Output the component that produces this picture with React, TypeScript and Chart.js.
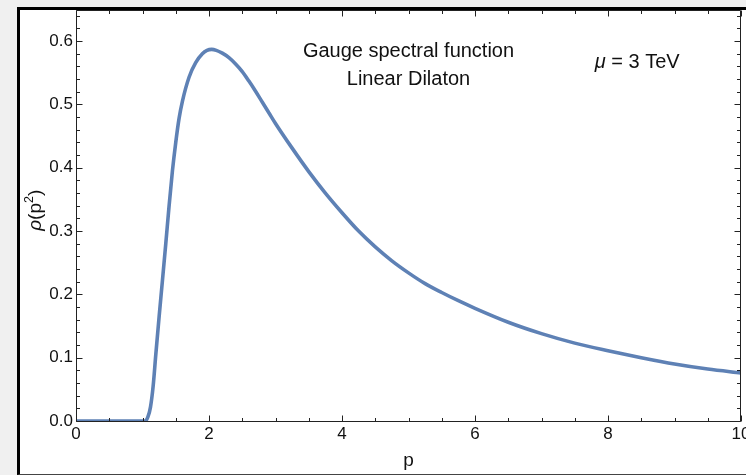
import React, { useEffect, useRef } from 'react';
import { Chart, registerables } from 'chart.js';

Chart.register(...registerables);

// ---- data ----
const pValues = [0, 0.5, 1.0, 1.04, 1.08, 1.12, 1.16, 1.2, 1.25, 1.3, 1.35, 1.4, 1.45, 1.5, 1.55, 1.6, 1.7, 1.8, 1.9, 1.97, 2.04, 2.11, 2.2, 2.3, 2.4, 2.5, 2.6, 2.7, 2.8, 2.9, 3.0, 3.25, 3.5, 3.75, 4.0, 4.25, 4.5, 4.75, 5.0, 5.25, 5.5, 5.75, 6.0, 6.5, 7.0, 7.5, 8.0, 8.5, 9.0, 9.5, 10];
const rhoValues = [0, 0, 0, 0, 0.006, 0.022, 0.055, 0.105, 0.165, 0.222, 0.28, 0.34, 0.395, 0.44, 0.478, 0.505, 0.543, 0.566, 0.58, 0.5855, 0.587, 0.5855, 0.581, 0.574, 0.564, 0.552, 0.537, 0.521, 0.504, 0.487, 0.47, 0.431, 0.394, 0.36, 0.329, 0.3, 0.275, 0.253, 0.234, 0.217, 0.203, 0.19, 0.178, 0.156, 0.138, 0.123, 0.111, 0.1, 0.09, 0.082, 0.076];

const xMajorTicks = [0, 2, 4, 6, 8, 10];
const xMinorStep = 0.5;
const yMajorTicks = [0, 0.1, 0.2, 0.3, 0.4, 0.5, 0.6];
const yMinorStep = 0.02;
const xRange = [0, 10];
const yRange = [0, 0.65];

const titleLines = ['Gauge spectral function', 'Linear Dilaton'];
const muLabel = ['μ', ' = 3 TeV'];
const xTitle = 'p';

const FONT = '"Liberation Sans", Arial, Helvetica, sans-serif';
const LINE_COLOR = '#5e81b5';

const isMajor = (v: number, majors: number[]) => majors.some((m) => Math.abs(m - v) < 1e-6);

const buildTicks = (max: number, step: number) => {
  const t: { value: number }[] = [];
  for (let i = 0; i * step <= max + 1e-9; i++) t.push({ value: +(i * step).toFixed(4) });
  return t;
};

const framePlugin = {
  id: 'mmaFrame',
  afterDatasetsDraw(chart: any) {
    const { ctx, chartArea, scales } = chart;
    const { left, right, top, bottom } = chartArea;
    const xs = scales.x;
    const ys = scales.y;
    ctx.save();
    ctx.strokeStyle = '#222';
    ctx.lineWidth = 1;
    const L = Math.round(left) + 0.5;
    const R = Math.round(right) - 0.5;
    const T = Math.round(top) + 0.5;
    const B = Math.round(bottom) + 0.5;
    ctx.beginPath();
    ctx.moveTo(L, T);
    ctx.lineTo(R, T);
    ctx.lineTo(R, B);
    ctx.lineTo(L, B);
    ctx.closePath();
    ctx.stroke();
    ctx.beginPath();
    xs.ticks.forEach((t: any) => {
      const px = Math.round(xs.getPixelForValue(t.value)) + 0.5;
      const len = isMajor(t.value, xMajorTicks) ? 6 : 3.5;
      ctx.moveTo(px, B);
      ctx.lineTo(px, B - len);
      ctx.moveTo(px, T);
      ctx.lineTo(px, T + len);
    });
    ys.ticks.forEach((t: any) => {
      const py = Math.round(ys.getPixelForValue(t.value)) + 0.5;
      const len = isMajor(t.value, yMajorTicks) ? 6 : 3.5;
      ctx.moveTo(L, py);
      ctx.lineTo(L + len, py);
      ctx.moveTo(R, py);
      ctx.lineTo(R - len, py);
    });
    ctx.stroke();
    ctx.restore();
  },
  afterDraw(chart: any) {
    const { ctx, chartArea, scales } = chart;
    const xs = scales.x;
    const ys = scales.y;
    ctx.save();
    ctx.fillStyle = '#111';
    // annotations
    ctx.font = `20px ${FONT}`;
    ctx.textAlign = 'center';
    ctx.textBaseline = 'alphabetic';
    const cx = xs.getPixelForValue(5.0);
    ctx.fillText(titleLines[0], cx, ys.getPixelForValue(0.5757));
    ctx.fillText(titleLines[1], cx, ys.getPixelForValue(0.5305));
    // mu label
    ctx.textAlign = 'left';
    let mx = xs.getPixelForValue(7.8);
    const my = ys.getPixelForValue(0.5574);
    ctx.font = `italic 20px ${FONT}`;
    ctx.fillText(muLabel[0], mx, my);
    mx += ctx.measureText(muLabel[0]).width;
    ctx.font = `20px ${FONT}`;
    ctx.fillText(muLabel[1], mx, my);
    // y title rho(p^2)
    const segs = [
      { t: 'ρ', f: `italic 19px ${FONT}`, dy: 0 },
      { t: '(p', f: `19px ${FONT}`, dy: 0 },
      { t: '2', f: `12.5px ${FONT}`, dy: -8 },
      { t: ')', f: `19px ${FONT}`, dy: 0 },
    ];
    let total = 0;
    segs.forEach((s) => {
      ctx.font = s.f;
      total += ctx.measureText(s.t).width;
    });
    const cy = (chartArea.top + chartArea.bottom) / 2 - 5;
    ctx.translate(41, cy);
    ctx.rotate(-Math.PI / 2);
    let sx = -total / 2;
    segs.forEach((s) => {
      ctx.font = s.f;
      ctx.fillText(s.t, sx, s.dy);
      sx += ctx.measureText(s.t).width;
    });
    ctx.restore();
  },
};

export default function App() {
  const ref = useRef<HTMLCanvasElement | null>(null);
  useEffect(() => {
    if (!ref.current) return;
    const chart = new Chart(ref.current, {
      type: 'line',
      data: {
        datasets: [
          {
            data: pValues.map((p, i) => ({ x: p, y: rhoValues[i] })),
            borderColor: LINE_COLOR,
            borderWidth: 3.6,
            pointRadius: 0,
            fill: false,
            cubicInterpolationMode: 'monotone',
            clip: 0,
          } as any,
        ],
      },
      options: {
        responsive: false,
        animation: false,
        events: [],
        layout: { padding: { left: 20, top: 9.5, right: 5, bottom: 0 } },
        plugins: { legend: { display: false }, tooltip: { enabled: false }, title: { display: false } },
        scales: {
          x: {
            type: 'linear',
            min: xRange[0],
            max: xRange[1],
            grid: { display: false, drawTicks: false },
            border: { display: false },
            afterBuildTicks: (scale: any) => {
              scale.ticks = buildTicks(xRange[1], xMinorStep);
            },
            afterFit: (scale: any) => {
              scale.height = 54;
              scale.paddingLeft = 0;
              scale.paddingRight = 0;
              scale.paddingTop = 0;
              scale.paddingBottom = 0;
            },
            ticks: {
              autoSkip: false,
              maxRotation: 0,
              minRotation: 0,
              padding: 3,
              color: '#111',
              font: { family: FONT, size: 17 },
              callback: (v: any) => (isMajor(Number(v), xMajorTicks) ? String(Math.round(Number(v))) : ''),
            },
            title: {
              display: true,
              text: xTitle,
              color: '#111',
              font: { family: FONT, size: 19 },
              padding: { top: 0, bottom: 3 },
            },
          },
          y: {
            type: 'linear',
            min: yRange[0],
            max: yRange[1],
            grid: { display: false, drawTicks: false },
            border: { display: false },
            afterBuildTicks: (scale: any) => {
              scale.ticks = buildTicks(yRange[1], yMinorStep);
            },
            afterFit: (scale: any) => {
              scale.width = 56;
              scale.paddingLeft = 0;
              scale.paddingRight = 0;
              scale.paddingTop = 0;
              scale.paddingBottom = 0;
            },
            ticks: {
              autoSkip: false,
              padding: 3,
              color: '#111',
              font: { family: FONT, size: 17 },
              callback: (v: any) => (isMajor(Number(v), yMajorTicks) ? Number(v).toFixed(1) : ''),
            },
          },
        },
      },
      plugins: [framePlugin],
    } as any);
    return () => chart.destroy();
  }, []);

  return (
    <div style={{ position: 'fixed', left: 0, top: 0, width: 746, height: 475, background: '#f0f0f0', overflow: 'hidden' }}>
      <div
        style={{
          position: 'absolute',
          left: 17,
          top: 7,
          right: 0,
          height: 464,
          background: '#fff',
          borderLeft: '3px solid #000',
          borderTop: '3px solid #000',
          borderBottom: '1px solid #444',
        }}
      />
      <canvas ref={ref} width={746} height={475} style={{ position: 'absolute', left: 0, top: 0, width: 746, height: 475 }} />
    </div>
  );
}
